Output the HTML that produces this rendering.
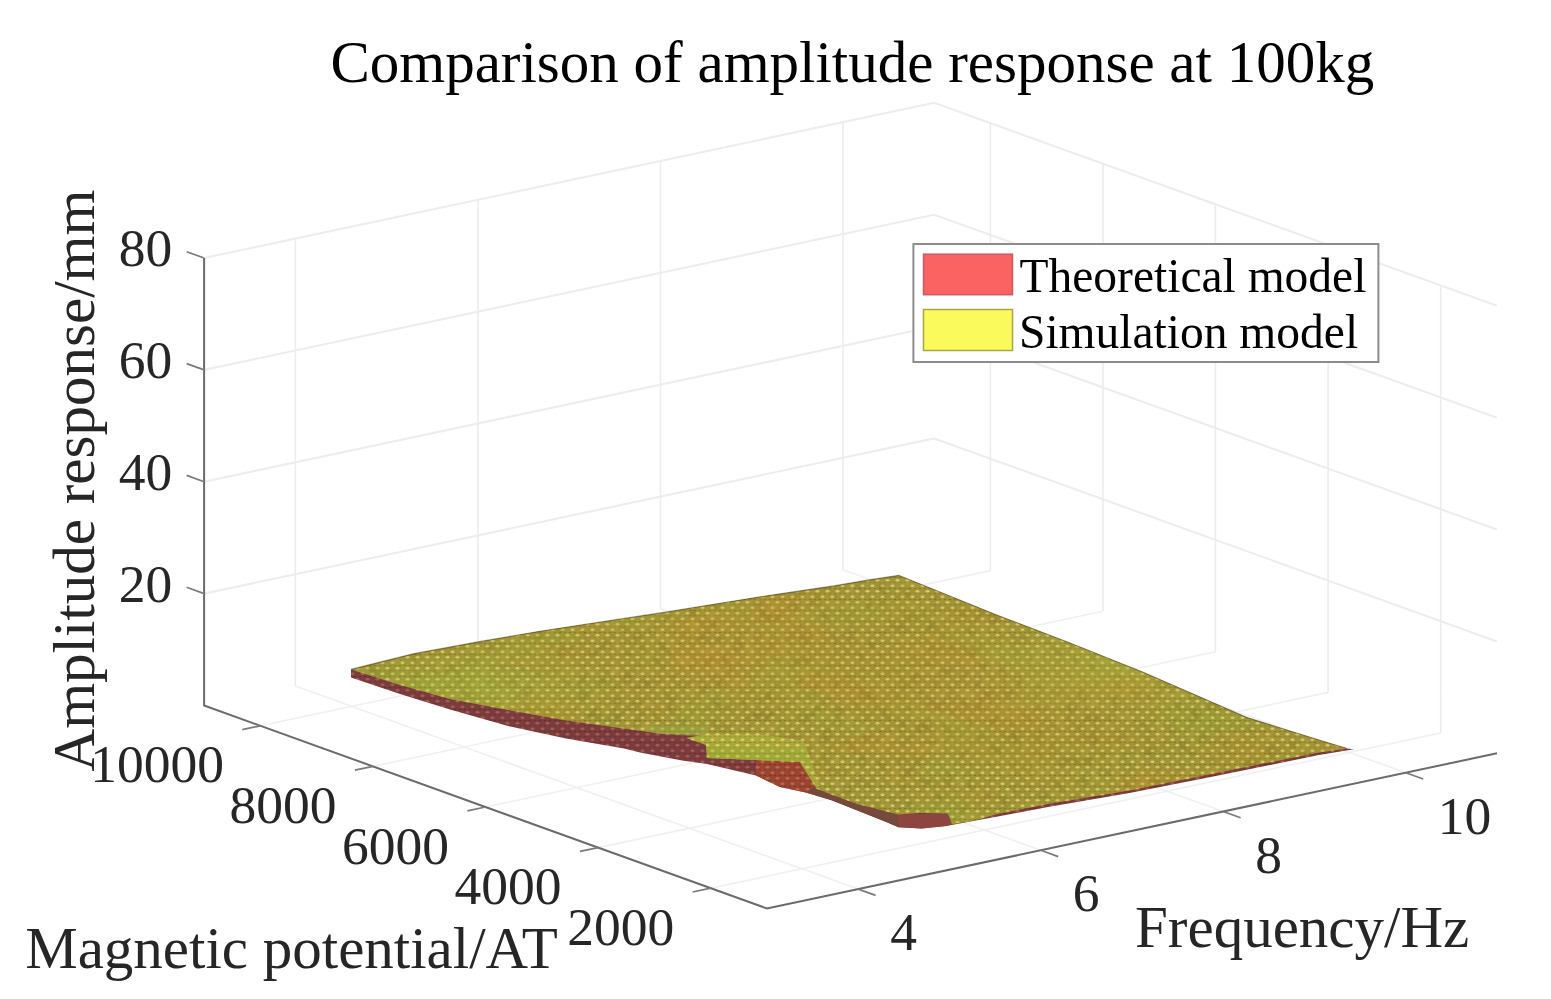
<!DOCTYPE html>
<html><head><meta charset="utf-8"><title>Comparison of amplitude response at 100kg</title>
<style>html,body{margin:0;padding:0;background:#fff;width:1551px;height:999px;overflow:hidden}svg{display:block}</style>
</head><body>
<svg width="1551" height="999" viewBox="0 0 1551 999">
<rect width="1551" height="999" fill="#fff"/>
<path d="M295.4,686.1L858.2,889.1M477.9,647.3L1040.8,850.3M660.4,608.5L1223.2,811.5M842.9,569.7L1405.8,772.7M260.4,725.8L990.4,570.6M373.0,766.4L1103.0,611.2M485.5,807.0L1215.5,651.8M598.1,847.6L1328.1,692.4M710.7,888.2L1440.7,733.0" fill="none" stroke="#f0f0f0" stroke-width="1.6"/><path d="M295.4,686.1L295.4,238.6M477.9,647.3L477.9,199.8M660.4,608.5L660.4,161.0M842.9,569.7L842.9,122.2M990.4,570.6L990.4,123.1M1103.0,611.2L1103.0,163.7M1215.5,651.8L1215.5,204.3M1328.1,692.4L1328.1,244.9M1440.7,733.0L1440.7,285.5" fill="none" stroke="#ececec" stroke-width="1.5"/><path d="M204.1,593.6L934.1,438.4L1497.0,641.4M204.1,481.7L934.1,326.5L1497.0,529.5M204.1,369.9L934.1,214.7L1497.0,417.7M204.1,258.0L934.1,102.8L1497.0,305.8" fill="none" stroke="#ededed" stroke-width="2.1" stroke-linejoin="round"/>
<defs>
<pattern id="py" patternUnits="userSpaceOnUse" width="10" height="11">
<rect width="10" height="11" fill="#a09538"/>
<path d="M0,5.50H10M0,11.00H10" stroke="#6e6422" stroke-width="0.9" stroke-dasharray="2.5 2.5" stroke-dashoffset="1.25" opacity="0.7" fill="none"/>
<ellipse cx="2.50" cy="2.75" rx="2.0" ry="1.35" fill="#dacd70"/>
<ellipse cx="7.50" cy="8.25" rx="2.0" ry="1.35" fill="#dacd70"/>
</pattern>
<pattern id="pr" patternUnits="userSpaceOnUse" width="10" height="11">
<rect width="10" height="11" fill="#7c3b3c"/>
<path d="M0,5.50H10M0,11.00H10" stroke="#562828" stroke-width="0.9" stroke-dasharray="2.5 2.5" stroke-dashoffset="1.25" opacity="0.7" fill="none"/>
<ellipse cx="2.50" cy="2.75" rx="2.0" ry="1.35" fill="#a25c56"/>
<ellipse cx="7.50" cy="8.25" rx="2.0" ry="1.35" fill="#a25c56"/>
</pattern>
<pattern id="pp" patternUnits="userSpaceOnUse" width="10" height="11">
<rect width="10" height="11" fill="#aaa83a"/>
<path d="M0,5.50H10M0,11.00H10" stroke="#747426" stroke-width="0.9" stroke-dasharray="2.5 2.5" stroke-dashoffset="1.25" opacity="0.7" fill="none"/>
<ellipse cx="2.50" cy="2.75" rx="2.0" ry="1.35" fill="#d8d266"/>
<ellipse cx="7.50" cy="8.25" rx="2.0" ry="1.35" fill="#d8d266"/>
</pattern>
<pattern id="po" patternUnits="userSpaceOnUse" width="10" height="11">
<rect width="10" height="11" fill="#9a4432"/>
<path d="M0,5.50H10M0,11.00H10" stroke="#6a2c22" stroke-width="0.9" stroke-dasharray="2.5 2.5" stroke-dashoffset="1.25" opacity="0.7" fill="none"/>
<ellipse cx="2.50" cy="2.75" rx="2.0" ry="1.35" fill="#bc6a48"/>
<ellipse cx="7.50" cy="8.25" rx="2.0" ry="1.35" fill="#bc6a48"/>
</pattern>
<filter id="nz" filterUnits="userSpaceOnUse" x="330" y="560" width="1040" height="280" color-interpolation-filters="sRGB">
<feTurbulence type="fractalNoise" baseFrequency="0.09" numOctaves="2" seed="4" result="t"/>
<feColorMatrix in="t" type="matrix" values="0 0 0 0 0.78  0 0 0 0 0.70  0 0 0 0 0.30  2.2 0 0 0 -1.05" result="hi"/>
<feColorMatrix in="t" type="matrix" values="0 0 0 0 0.40  0 0 0 0 0.36  0 0 0 0 0.10  0 2.2 0 0 -1.12" result="lo"/>
<feMerge><feMergeNode in="lo"/><feMergeNode in="hi"/></feMerge>
</filter>
<filter id="tint" filterUnits="userSpaceOnUse" x="330" y="560" width="1040" height="280" color-interpolation-filters="sRGB">
<feTurbulence type="fractalNoise" baseFrequency="0.012 0.03" numOctaves="2" seed="12" result="t"/>
<feColorMatrix in="t" type="matrix" values="0 0 0 0 0.80  0 0 0 0 0.52  0 0 0 0 0.15  2.0 0 0 0 -0.92" result="o"/>
<feColorMatrix in="t" type="matrix" values="0 0 0 0 0.55  0 0 0 0 0.72  0 0 0 0 0.22  0 2.0 0 0 -0.95" result="g"/>
<feMerge><feMergeNode in="o"/><feMergeNode in="g"/></feMerge>
</filter>
<clipPath id="cy"><path d="M351.0,669.5L413.0,654.0L478.0,642.0L540.0,631.3L600.0,622.2L662.5,612.7L760.6,596.8L800.0,591.0L834.0,586.0L866.0,580.5L898.7,575.5L930.0,588.0L995.4,614.5L1070.0,643.0L1143.7,672.5L1200.0,697.0L1246.9,717.6L1290.0,731.0L1319.0,740.0L1347.0,748.5L1319.0,752.5L1265.0,763.3L1210.8,774.2L1129.5,790.4L1048.0,804.0L994.0,814.8L980.0,819.3L952.0,824.2L948.0,813.5L920.0,813.0L898.0,814.5L857.0,804.0L831.0,794.5L816.0,788.5L800.0,762.0L756.0,760.0L707.0,758.0L706.0,735.0L662.8,734.0L620.0,728.0L566.0,720.6L508.0,710.0L450.0,699.0L400.0,685.0Z"/></clipPath>
<clipPath id="cr"><path d="M351.0,669.5L413.0,654.0L478.0,642.0L540.0,631.3L600.0,622.2L662.5,612.7L760.6,596.8L800.0,591.0L834.0,586.0L866.0,580.5L898.7,575.5L930.0,588.0L995.4,614.5L1070.0,643.0L1143.7,672.5L1200.0,697.0L1246.9,717.6L1290.0,731.0L1319.0,740.0L1347.0,748.5L1354.0,749.3L1319.0,755.0L1265.0,766.0L1210.8,777.0L1129.5,793.0L1048.0,807.0L994.0,817.3L979.9,819.8L946.3,826.0L921.8,828.5L898.6,827.2L883.2,820.8L857.4,810.5L831.6,800.2L805.8,792.4L780.0,787.0L756.0,775.5L707.0,764.0L682.0,760.5L640.0,752.5L624.0,748.5L566.0,738.5L508.0,726.0L450.0,709.5L400.0,694.0L351.0,677.5Z"/></clipPath>
<radialGradient id="gor" cx="0.5" cy="0.5" r="0.5">
<stop offset="0" stop-color="#c8862c" stop-opacity="0.2"/><stop offset="1" stop-color="#c8862c" stop-opacity="0"/></radialGradient>
<radialGradient id="ggr" cx="0.5" cy="0.5" r="0.5">
<stop offset="0" stop-color="#a4c040" stop-opacity="0.3"/><stop offset="1" stop-color="#a4c040" stop-opacity="0"/></radialGradient>
<filter id="bl" x="-5%" y="-5%" width="110%" height="110%"><feGaussianBlur stdDeviation="0.55"/></filter>
</defs>
<g filter="url(#bl)">
<path d="M351.0,669.5L413.0,654.0L478.0,642.0L540.0,631.3L600.0,622.2L662.5,612.7L760.6,596.8L800.0,591.0L834.0,586.0L866.0,580.5L898.7,575.5L930.0,588.0L995.4,614.5L1070.0,643.0L1143.7,672.5L1200.0,697.0L1246.9,717.6L1290.0,731.0L1319.0,740.0L1347.0,748.5L1354.0,749.3L1319.0,755.0L1265.0,766.0L1210.8,777.0L1129.5,793.0L1048.0,807.0L994.0,817.3L979.9,819.8L946.3,826.0L921.8,828.5L898.6,827.2L883.2,820.8L857.4,810.5L831.6,800.2L805.8,792.4L780.0,787.0L756.0,775.5L707.0,764.0L682.0,760.5L640.0,752.5L624.0,748.5L566.0,738.5L508.0,726.0L450.0,709.5L400.0,694.0L351.0,677.5Z" fill="url(#pr)"/>
<path d="M756.0,760.0L800.0,762.0L816.0,787.0L805.8,792.4L780.0,787.0L756.0,775.5Z" fill="url(#po)"/>
<path d="M898.0,814.5L948.0,813.5L952.0,824.2L946.3,826.0L921.8,828.5L898.6,827.2Z" fill="#8e4440"/>
<path d="M816.0,788.5L831.0,794.5L857.0,804.0L898.0,814.5L898.6,827.2L883.2,820.8L857.4,810.5L831.6,800.2L805.8,792.4Z" fill="#74483a"/>
<path d="M351.0,669.5L413.0,654.0L478.0,642.0L540.0,631.3L600.0,622.2L662.5,612.7L760.6,596.8L800.0,591.0L834.0,586.0L866.0,580.5L898.7,575.5L930.0,588.0L995.4,614.5L1070.0,643.0L1143.7,672.5L1200.0,697.0L1246.9,717.6L1290.0,731.0L1319.0,740.0L1347.0,748.5L1319.0,752.5L1265.0,763.3L1210.8,774.2L1129.5,790.4L1048.0,804.0L994.0,814.8L980.0,819.3L952.0,824.2L948.0,813.5L920.0,813.0L898.0,814.5L857.0,804.0L831.0,794.5L816.0,788.5L800.0,762.0L756.0,760.0L707.0,758.0L706.0,735.0L662.8,734.0L620.0,728.0L566.0,720.6L508.0,710.0L450.0,699.0L400.0,685.0Z" fill="url(#py)"/>
<g clip-path="url(#cy)">
<rect x="330" y="560" width="1040" height="280" filter="url(#nz)" opacity="0.35"/>
<rect x="330" y="560" width="1040" height="280" filter="url(#tint)" opacity="0.3"/>
<ellipse cx="760" cy="650" rx="260" ry="90" fill="url(#gor)"/>
<ellipse cx="1010" cy="700" rx="200" ry="80" fill="url(#gor)"/>
<ellipse cx="1130" cy="660" rx="170" ry="60" fill="url(#ggr)"/>
<ellipse cx="480" cy="690" rx="140" ry="45" fill="url(#ggr)"/>
</g>
<path d="M351.0,669.5L413.0,654.0L478.0,642.0L540.0,631.3L600.0,622.2L662.5,612.7L760.6,596.8L800.0,591.0L834.0,586.0L866.0,580.5L898.7,575.5L930.0,588.0L995.4,614.5L1070.0,643.0L1143.7,672.5L1200.0,697.0L1246.9,717.6L1290.0,731.0L1319.0,740.0L1347.0,748.5" fill="none" stroke="#5c5620" stroke-width="1.3" opacity="0.6"/>
<path d="M650.0,726.0L707.0,726.0L707.0,737.0L662.8,734.0L650.0,732.0Z" fill="#94a446" opacity="0.45"/>
<path d="M686.0,738.0L707.0,734.0L760.0,734.0L804.0,741.0L820.0,787.0L816.0,787.0L800.0,762.0L756.0,760.0L707.0,758.0L706.0,745.0Z" fill="url(#pp)"/>
<path d="M707.0,746.0L804.0,749.0L812.0,765.0L800.0,762.0L756.0,760.0L707.0,758.0Z" fill="#90aa34" opacity="0.3"/>
</g>
<path d="M204.1,258.0L204.1,705.5L767.0,908.5L1497.0,753.3" fill="none" stroke="#6b6b6b" stroke-width="2"/><path d="M204.1,593.6l-17.4,-6.3M204.1,481.7l-17.4,-6.3M204.1,369.9l-17.4,-6.3M204.1,258.0l-17.4,-6.3M260.4,725.8l-18.1,3.8M373.0,766.4l-18.1,3.8M485.5,807.0l-18.1,3.8M598.1,847.6l-18.1,3.8M710.7,888.2l-18.1,3.8M858.2,889.1l17.4,6.3M1040.8,850.3l17.4,6.3M1223.2,811.5l17.4,6.3M1405.8,772.7l17.4,6.3" fill="none" stroke="#7a7a7a" stroke-width="1.7"/>
<g font-family="'Liberation Serif', 'Times New Roman', serif" fill="#262626">
<text x="172.2" y="601.9" text-anchor="end" font-size="53.5">20</text><text x="172.2" y="490.0" text-anchor="end" font-size="53.5">40</text><text x="172.2" y="378.2" text-anchor="end" font-size="53.5">60</text><text x="172.2" y="266.3" text-anchor="end" font-size="53.5">80</text><text x="223.9" y="782.3" text-anchor="end" font-size="53.5">10000</text><text x="336.5" y="822.9" text-anchor="end" font-size="53.5">8000</text><text x="449.0" y="863.5" text-anchor="end" font-size="53.5">6000</text><text x="561.6" y="904.1" text-anchor="end" font-size="53.5">4000</text><text x="674.2" y="944.7" text-anchor="end" font-size="53.5">2000</text><text x="890.2" y="950.1" font-size="53.5">4</text><text x="1072.8" y="911.3" font-size="53.5">6</text><text x="1255.2" y="872.5" font-size="53.5">8</text><text x="1437.8" y="833.7" font-size="53.5">10</text><text x="330.4" y="82" font-size="59" fill="#000">Comparison of amplitude response at 100kg</text><text x="25.2" y="968" font-size="59">Magnetic potential/AT</text><text x="1135" y="946.5" font-size="59">Frequency/Hz</text><text transform="translate(93.6,771.4) rotate(-90)" font-size="59">Amplitude response/mm</text>
<rect x="913.4" y="244" width="465" height="118" fill="#fff" stroke="#8c8c8c" stroke-width="2"/>
<rect x="923.5" y="254.2" width="89" height="40.5" fill="#fb6262" stroke="#c85a64" stroke-width="1.5"/>
<rect x="923.5" y="309.5" width="89" height="41" fill="#fafa5c" stroke="#a8a64a" stroke-width="1.5"/>
<text x="1019.5" y="292" font-size="47.5" fill="#000">Theoretical model</text>
<text x="1019" y="347.5" font-size="47.5" fill="#000">Simulation model</text>
</g>
</svg>
</body></html>
